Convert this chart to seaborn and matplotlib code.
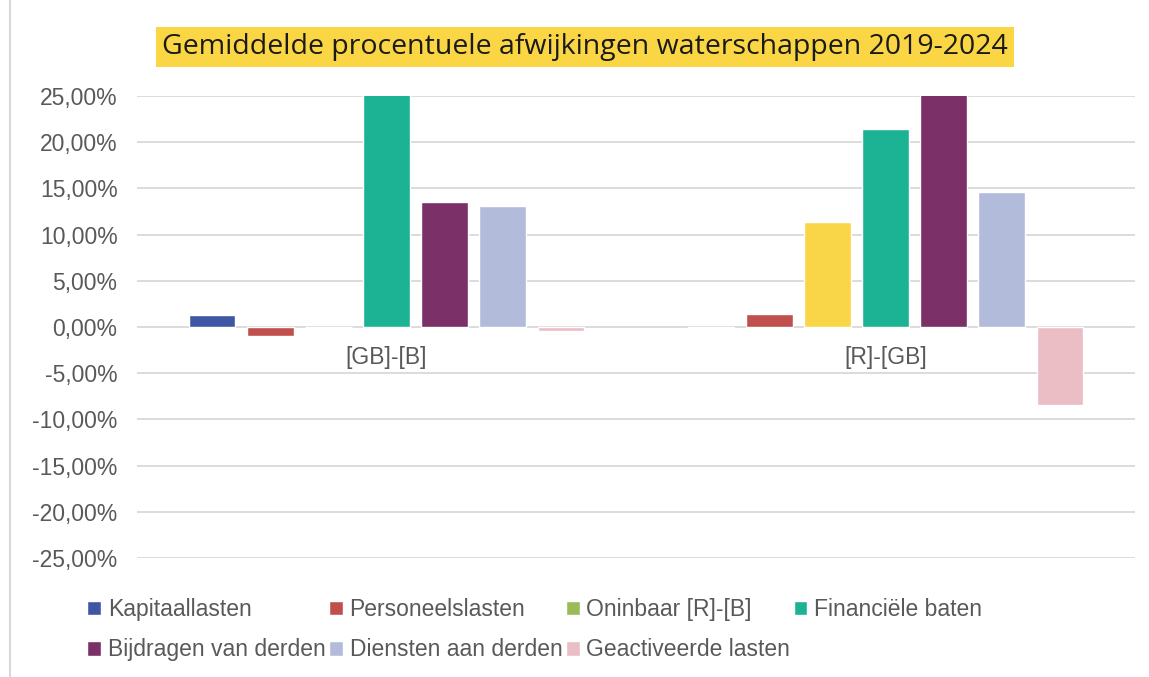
import pandas as pd
import matplotlib.pyplot as plt
import seaborn as sns
from matplotlib.lines import Line2D
from matplotlib.ticker import FuncFormatter

# ----------------------------
# Data
# ----------------------------
groups = ['[GB]-[B]', '[R]-[GB]']
series = ['Kapitaallasten', 'Personeelslasten', 'Oninbaar [R]-[B]', 'Financiële baten',
          'Bijdragen van derden', 'Diensten aan derden', 'Geactiveerde lasten']
vals_gb_b = [1.27, -0.94, 0.0, 27.5, 13.5, 13.1, -0.45]
vals_r_gb = [-0.1, 1.44, 11.4, 21.4, 26.5, 14.6, -8.4]
colors = ['#3F56A5', '#C0504D', '#9BBB59', '#1BB394', '#7B3068', '#B3BBDA', '#EBBDC4']
highlight = '#F9D648'   # single point coloured separately in the source

df = pd.DataFrame({
    'groep': [groups[0]] * len(series) + [groups[1]] * len(series),
    'reeks': series * 2,
    'waarde': vals_gb_b + vals_r_gb,
})

# ----------------------------
# Plot
# ----------------------------
sns.set_style('white')
plt.rcParams['font.family'] = ['Liberation Sans', 'DejaVu Sans']

fig = plt.figure(figsize=(11.49, 6.77), dpi=100)
ax = fig.add_axes([137 / 1149, 1 - 558 / 677, 998 / 1149, 462 / 677])

sns.barplot(data=df, x='groep', y='waarde', hue='reeks', hue_order=series,
            palette=colors, width=0.815, gap=0.2, ax=ax, legend=True, saturation=1)

# yellow point for Oninbaar in the second group
ax.containers[2][1].set_facecolor(highlight)

ax.set_xlim(-0.5, 1.5)
ax.set_ylim(-25, 25)
ax.set_yticks(range(-25, 30, 5))
ax.yaxis.set_major_formatter(FuncFormatter(lambda v, p: f'{v:.2f}%'.replace('.', ',')))
ax.grid(axis='y', color='#D9D9D9', lw=1.3)
ax.set_axisbelow(True)
for s in ax.spines.values():
    s.set_visible(False)
ax.spines['bottom'].set_position(('data', 0))
ax.tick_params(axis='both', length=0, labelsize=16.5, labelcolor='#595959')
ax.tick_params(axis='x', pad=14)
ax.tick_params(axis='y', pad=14)
ax.set_xlabel('')
ax.set_ylabel('')

# legend, filled row by row like the original (4 per row)
handles, labels = ax.get_legend_handles_labels()
ax.legend_.remove()
order = [0, 4, 1, 5, 2, 6, 3]
fig.legend([handles[i] for i in order], [labels[i] for i in order], ncol=4,
           loc='upper left', bbox_to_anchor=(78 / 1149, 1 - 589 / 677),
           frameon=False, fontsize=16.5, labelcolor='#595959', handlelength=0.6, handleheight=0.6,
           handletextpad=0.3, columnspacing=0.15, labelspacing=0.75, borderaxespad=0)

# title with yellow box
fig.text(585 / 1149, 1 - 47 / 677, 'Gemiddelde procentuele afwijkingen waterschappen 2019-2024',
         ha='center', va='center', fontsize=20.5, family='Open Sans', color='#1a1a1a',
         bbox=dict(boxstyle='square,pad=0.22', fc='#FBD644', ec='none'))

# chart border on the left
fig.add_artist(Line2D([10 / 1149, 10 / 1149], [0, 1], color='#D9D9D9', lw=1.5))

fig.savefig('out.png', dpi=100)
